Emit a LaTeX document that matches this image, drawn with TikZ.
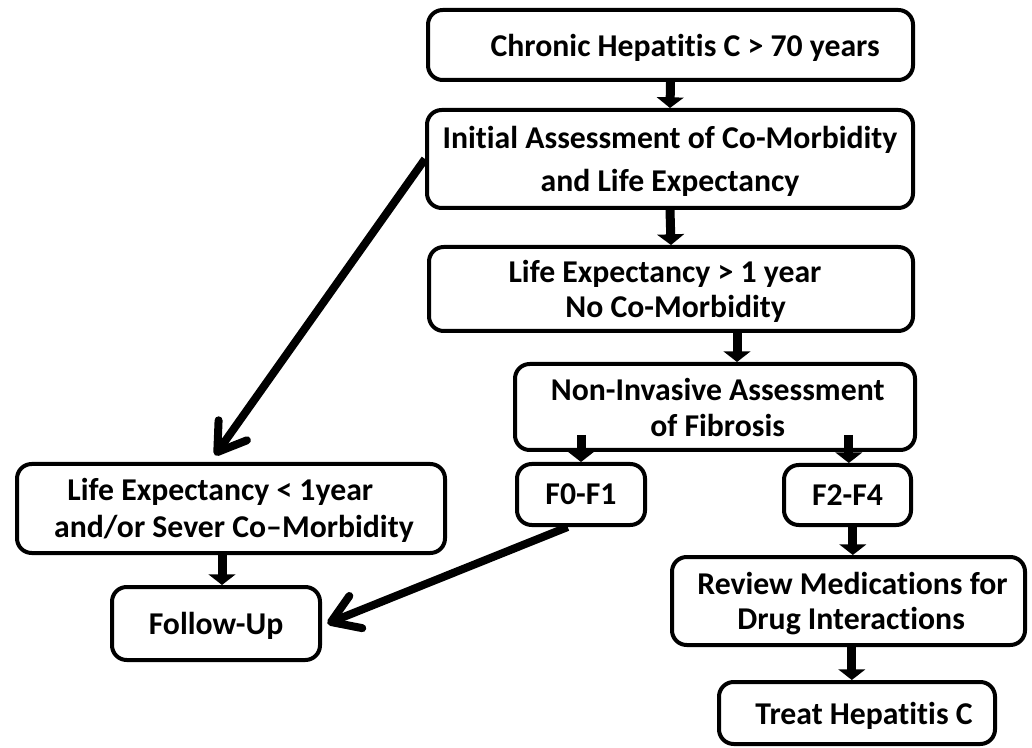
\documentclass[tikz,border=0pt]{standalone}
\usepackage{fontspec}
\setmainfont{Carlito}[Ligatures={TeX,NoCommon}]
\usetikzlibrary{arrows.meta}
\begin{document}
\begin{tikzpicture}[x=0.75pt,y=-0.75pt,
  box/.style={draw,line width=3pt,rounded corners=11pt,align=center,inner sep=2pt,
    font=\fontsize{23.8}{26}\selectfont\bfseries},
  blockarrow/.style={line width=6.75pt,-{Triangle[width=20pt,length=8pt]}},
  diagarrow/.style={line width=6pt,-{Straight Barb[length=20pt,width=26pt,round]}}]
\useasboundingbox (0,0) rectangle (1032,748);

\node[box,minimum width=363.75pt,minimum height=52.5pt,text depth=-2.5pt] (b1) at (670.5,45)
  {\rule{22pt}{0pt}Chronic Hepatitis C > 70 years};
\node[box,minimum width=364.5pt,minimum height=73.5pt,text depth=-2.5pt,
  font=\fontsize{23.8}{32}\selectfont\bfseries] (b2) at (670,159)
  {Initial Assessment of Co-Morbidity\\and Life Expectancy};
\node[box,minimum width=363pt,minimum height=63pt,text depth=-2.5pt,
  font=\fontsize{23.8}{26.5}\selectfont\bfseries] (b3) at (671,289)
  {Life Expectancy > 1 year\rule{9pt}{0pt}\\\rule{7pt}{0pt}No Co-Morbidity};
\node[box,minimum width=300pt,minimum height=64.5pt,text depth=-3pt,
  font=\fontsize{23.8}{27}\selectfont\bfseries] (b4) at (715,407)
  {\rule{4pt}{0pt}Non-Invasive Assessment\\\rule{4pt}{0pt}of Fibrosis};
\node[box,minimum width=96pt,minimum height=45.75pt,text depth=-3pt] (f01) at (581,494.5) {F0-F1};
\node[box,minimum width=95.25pt,minimum height=45pt,text depth=-3pt] (f24) at (847.5,495) {F2-F4};
\node[box,minimum width=321pt,minimum height=66.75pt,text depth=0.5pt,
  font=\fontsize{23.8}{28}\selectfont\bfseries] (le) at (231,508.5)
  {Life Expectancy < 1year\rule{16pt}{0pt}\\\rule{4.5pt}{0pt}and/or Sever Co–Morbidity};
\node[box,minimum width=156pt,minimum height=54.75pt,text depth=0.5pt] (fu) at (216,623.5) {Follow-Up};
\node[box,minimum width=264.75pt,minimum height=66pt,text depth=-7pt] (rev) at (848.5,601)
  {\rule{6pt}{0pt}Review Medications for\\\rule{4pt}{0pt}Drug Interactions};
\node[box,minimum width=207pt,minimum height=46.5pt,text depth=-2.5pt] (treat) at (857,713)
  {\rule{10.5pt}{0pt}Treat Hepatitis C};

\coordinate (s34) at ([xshift=49.5pt]b3.south);
\coordinate (e34) at (s34 |- b4.north);
\coordinate (s401) at (f01.north |- b4.south);
\coordinate (s424) at ([xshift=1pt]f24.north |- b4.south);
\coordinate (e424) at ([xshift=1pt]f24.north);
\coordinate (slf) at ([xshift=4.5pt]fu.north |- le.south);
\coordinate (elf) at ([xshift=4.5pt]fu.north);
\coordinate (s2r) at ([xshift=4pt]f24.south);
\coordinate (e2r) at (s2r |- rev.north);
\coordinate (srt) at ([xshift=2.5pt]rev.south);
\coordinate (ert) at (srt |- treat.north);

\draw[blockarrow] (b1.south) -- (b2.north);
\draw[blockarrow] (b2.south) -- (b3.north);
\draw[blockarrow] (s34) -- (e34);
\draw[blockarrow] ([yshift=12.75pt]s401) -- (f01.north);
\draw[blockarrow] ([yshift=12.75pt]s424) -- (e424);
\draw[blockarrow] (slf) -- (elf);
\draw[blockarrow] (s2r) -- (e2r);
\draw[blockarrow] (srt) -- (ert);

\draw[diagarrow] (b2.west) -- ([xshift=-12pt,yshift=5pt]le.north);
\draw[diagarrow] ([xshift=-10pt]f01.south) -- ([xshift=4pt]fu.east);
\end{tikzpicture}
\end{document}
